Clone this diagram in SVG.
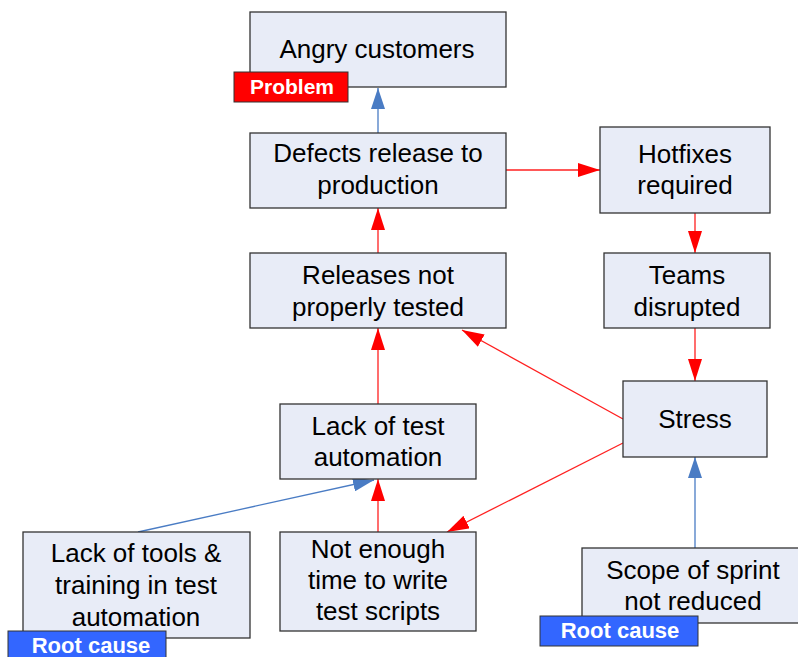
<svg xmlns="http://www.w3.org/2000/svg" width="798" height="657" viewBox="0 0 798 657">
<style>
.n{fill:#E8ECF7;stroke:#333;stroke-width:1.3}
.t{font-family:"Liberation Sans",Arial,sans-serif;font-size:26px;fill:#000;text-anchor:middle}
.lb{font-family:"Liberation Sans",Arial,sans-serif;font-size:21px;font-weight:bold;fill:#fff;text-anchor:middle}
.r{stroke:#FF2020;stroke-width:1.3;fill:none}
.b{stroke:#4A7CC4;stroke-width:1.3;fill:none}
</style>
<defs>
<marker id="ab" markerWidth="21" markerHeight="14" refX="21" refY="7" orient="auto" markerUnits="userSpaceOnUse"><path d="M0,0 L21,7 L0,14 Z" fill="#4A7CC4"/></marker>
<marker id="ar2" markerWidth="22" markerHeight="14" refX="22" refY="7" orient="auto" markerUnits="userSpaceOnUse"><path d="M0,0 L22,7 L0,14 Z" fill="#FF0000"/></marker>
</defs>
<rect width="798" height="657" fill="#fff"/>
<g id="connectors">
<line class="b" x1="378" y1="133" x2="378" y2="88" marker-end="url(#ab)"/>
<line class="r" x1="506" y1="170" x2="600" y2="170" marker-end="url(#ar2)"/>
<line class="r" x1="378" y1="253" x2="378" y2="208" marker-end="url(#ar2)"/>
<line class="r" x1="695" y1="213" x2="695" y2="253" marker-end="url(#ar2)"/>
<line class="r" x1="695" y1="328" x2="695" y2="381" marker-end="url(#ar2)"/>
<line class="r" x1="378" y1="404" x2="378" y2="328" marker-end="url(#ar2)"/>
<line class="r" x1="623" y1="419" x2="462" y2="330" marker-end="url(#ar2)"/>
<line class="r" x1="623" y1="443" x2="447" y2="532" marker-end="url(#ar2)"/>
<line class="r" x1="378" y1="532" x2="378" y2="479" marker-end="url(#ar2)"/>
<line class="b" x1="138" y1="532" x2="374" y2="480" marker-end="url(#ab)"/>
<line class="b" x1="695" y1="548" x2="695" y2="457" marker-end="url(#ab)"/>
</g>
<g id="angry"><rect class="n" x="250" y="12" width="256" height="75"/><text class="t" x="377" y="58">Angry customers</text></g>
<g id="problem"><rect x="234" y="72" width="114" height="30" fill="#FF0000" stroke="#333" stroke-width="1"/><text class="lb" x="292" y="94">Problem</text></g>
<g id="defects"><rect class="n" x="250" y="133" width="256" height="75"/><text class="t" x="378" y="162">Defects release to</text><text class="t" x="378" y="194">production</text></g>
<g id="hotfixes"><rect class="n" x="600" y="127" width="170" height="86"/><text class="t" x="685" y="163">Hotfixes</text><text class="t" x="685" y="194">required</text></g>
<g id="teams"><rect class="n" x="604" y="253" width="166" height="75"/><text class="t" x="687" y="284">Teams</text><text class="t" x="687" y="316">disrupted</text></g>
<g id="releases"><rect class="n" x="250" y="253" width="256" height="75"/><text class="t" x="378" y="284">Releases not</text><text class="t" x="378" y="316">properly tested</text></g>
<g id="stress"><rect class="n" x="623" y="381" width="144" height="76"/><text class="t" x="695" y="428">Stress</text></g>
<g id="lackauto"><rect class="n" x="280" y="404" width="196" height="75"/><text class="t" x="378" y="435">Lack of test</text><text class="t" x="378" y="466">automation</text></g>
<g id="notenough"><rect class="n" x="280" y="532" width="196" height="99"/><text class="t" x="378" y="558">Not enough</text><text class="t" x="378" y="589">time to write</text><text class="t" x="378" y="620">test scripts</text></g>
<g id="lacktools"><rect class="n" x="23" y="532" width="227" height="106"/><text class="t" x="136" y="562">Lack of tools &amp;</text><text class="t" x="136" y="594">training in test</text><text class="t" x="136" y="626">automation</text></g>
<g id="rootcause1"><rect x="8" y="631" width="158" height="30" fill="#3366FF" stroke="#333" stroke-width="1"/><text class="lb" x="91" y="653" style="font-size:22px">Root cause</text></g>
<g id="scope"><rect class="n" x="582" y="548" width="218" height="75"/><text class="t" x="693" y="579">Scope of sprint</text><text class="t" x="693" y="610">not reduced</text></g>
<g id="rootcause2"><rect x="540" y="616" width="158" height="30" fill="#3366FF" stroke="#333" stroke-width="1"/><text class="lb" x="620" y="638" style="font-size:22px">Root cause</text></g>
</svg>
